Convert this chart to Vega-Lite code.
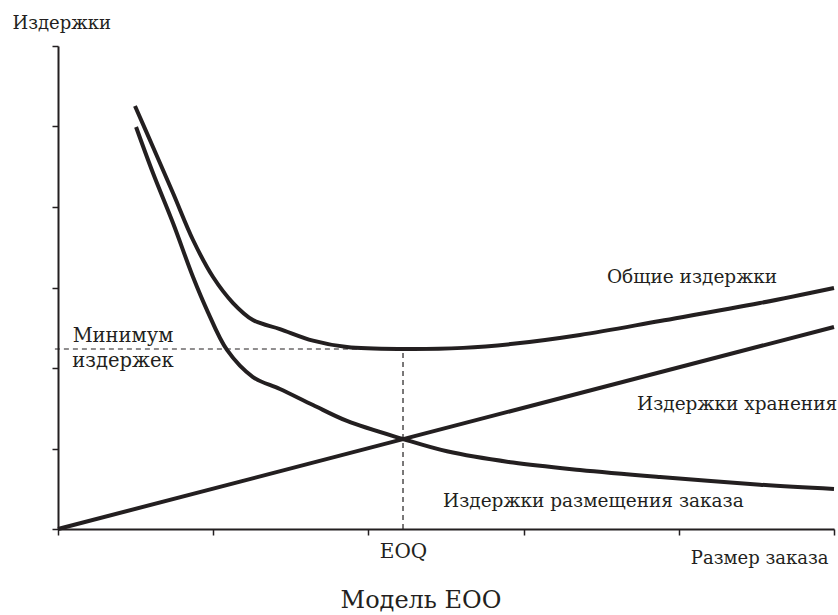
{
  "$schema": "https://vega.github.io/schema/vega-lite/v6.json",
  "width": 776,
  "height": 483,
  "autosize": {"type": "none"},
  "padding": {"left": 58, "top": 46, "right": 4, "bottom": 86},
  "background": "white",
  "config": {
    "view": {"stroke": null},
    "font": "DejaVu Serif",
    "axis": {
      "domainColor": "#231f20",
      "domainWidth": 2,
      "tickColor": "#231f20",
      "tickWidth": 1.5,
      "tickSize": 6,
      "grid": false,
      "labelColor": "#231f20",
      "titleColor": "#231f20",
      "labelFont": "DejaVu Serif",
      "titleFont": "DejaVu Serif",
      "titleFontWeight": "normal"
    }
  },
  "title": {
    "text": "Модель EOO",
    "orient": "bottom",
    "anchor": "middle",
    "font": "DejaVu Serif",
    "fontSize": 24,
    "fontWeight": "normal",
    "color": "#231f20",
    "dx": -25,
    "offset": 22
  },
  "layer": [
    {
      "data": {
        "values": [
          {"series": "order", "q": 0.503, "cost": 4.994},
          {"series": "order", "q": 0.612, "cost": 4.422},
          {"series": "order", "q": 0.741, "cost": 3.801},
          {"series": "order", "q": 0.870, "cost": 3.130},
          {"series": "order", "q": 0.960, "cost": 2.720},
          {"series": "order", "q": 1.089, "cost": 2.224},
          {"series": "order", "q": 1.256, "cost": 1.888},
          {"series": "order", "q": 1.430, "cost": 1.739},
          {"series": "order", "q": 1.643, "cost": 1.540},
          {"series": "order", "q": 1.862, "cost": 1.342},
          {"series": "order", "q": 2.223, "cost": 1.118},
          {"series": "order", "q": 2.506, "cost": 0.965},
          {"series": "order", "q": 2.932, "cost": 0.825},
          {"series": "order", "q": 3.363, "cost": 0.733},
          {"series": "order", "q": 3.879, "cost": 0.646},
          {"series": "order", "q": 4.523, "cost": 0.550},
          {"series": "order", "q": 5.0, "cost": 0.497},
          {"series": "total", "q": 0.496, "cost": 5.255},
          {"series": "total", "q": 0.612, "cost": 4.745},
          {"series": "total", "q": 0.741, "cost": 4.174},
          {"series": "total", "q": 0.870, "cost": 3.590},
          {"series": "total", "q": 0.999, "cost": 3.130},
          {"series": "total", "q": 1.128, "cost": 2.807},
          {"series": "total", "q": 1.256, "cost": 2.596},
          {"series": "total", "q": 1.430, "cost": 2.484},
          {"series": "total", "q": 1.643, "cost": 2.340},
          {"series": "total", "q": 1.862, "cost": 2.260},
          {"series": "total", "q": 2.223, "cost": 2.236},
          {"series": "total", "q": 2.610, "cost": 2.250},
          {"series": "total", "q": 2.932, "cost": 2.300},
          {"series": "total", "q": 3.363, "cost": 2.410},
          {"series": "total", "q": 3.879, "cost": 2.584},
          {"series": "total", "q": 4.523, "cost": 2.807},
          {"series": "total", "q": 5.0, "cost": 2.994},
          {"series": "holding", "q": 0.0, "cost": 0.0},
          {"series": "holding", "q": 5.0, "cost": 2.51}
        ]
      },
      "mark": {"type": "line", "color": "#231f20", "strokeWidth": 4, "interpolate": "catmull-rom"},
      "encoding": {
        "x": {
          "field": "q",
          "type": "quantitative",
          "scale": {"domain": [0, 5], "nice": false, "zero": false},
          "axis": {
            "values": [0, 1, 2, 2.223, 3, 4, 5],
            "labelExpr": "datum.value > 2.2 && datum.value < 2.3 ? 'EOQ' : ''",
            "tickOpacity": {"condition": {"test": "datum.value > 2.2 && datum.value < 2.3", "value": 0}, "value": 1},
            "labelFontSize": 20,
            "labelBaseline": "alphabetic",
            "labelPadding": 22,
            "labelFlush": false,
            "labelOverlap": false,
            "title": "Размер заказа",
            "titleFontSize": 18,
            "titleAlign": "right",
            "titleBaseline": "alphabetic",
            "titleX": 770,
            "titleY": 34
          }
        },
        "y": {
          "field": "cost",
          "type": "quantitative",
          "scale": {"domain": [0, 6], "nice": false},
          "axis": {
            "values": [0, 1, 2, 3, 4, 5, 6],
            "labels": false,
            "title": "Издержки",
            "titleFontSize": 18,
            "titleAngle": 0,
            "titleAlign": "left",
            "titleBaseline": "alphabetic",
            "titleX": -46,
            "titleY": -18
          }
        },
        "detail": {"field": "series", "type": "nominal"}
      }
    },
    {
      "data": {
        "values": [
          {"q": -0.02, "q2": 2.223, "cost": 2.236, "cost2": 2.236},
          {"q": 2.223, "q2": 2.223, "cost": 0.0, "cost2": 2.236}
        ]
      },
      "mark": {"type": "rule", "color": "#231f20", "strokeWidth": 1.2, "strokeDash": [5, 4]},
      "encoding": {
        "x": {"field": "q", "type": "quantitative"},
        "x2": {"field": "q2"},
        "y": {"field": "cost", "type": "quantitative"},
        "y2": {"field": "cost2"}
      }
    },
    {
      "data": {
        "values": [
          {"label": "Общие издержки", "q": 3.537, "cost": 3.056},
          {"label": "Издержки хранения", "q": 3.731, "cost": 1.478},
          {"label": "Издержки размещения заказа", "q": 2.481, "cost": 0.273}
        ]
      },
      "mark": {"type": "text", "align": "left", "baseline": "alphabetic", "fontSize": 18.5, "font": "DejaVu Serif", "color": "#231f20"},
      "encoding": {
        "x": {"field": "q", "type": "quantitative"},
        "y": {"field": "cost", "type": "quantitative"},
        "text": {"field": "label"}
      }
    },
    {
      "data": {
        "values": [
          {"label": "Минимум", "q": 0.419, "cost": 2.323},
          {"label": "издержек", "q": 0.419, "cost": 2.012}
        ]
      },
      "mark": {"type": "text", "align": "center", "baseline": "alphabetic", "fontSize": 19.5, "font": "DejaVu Serif", "color": "#231f20"},
      "encoding": {
        "x": {"field": "q", "type": "quantitative"},
        "y": {"field": "cost", "type": "quantitative"},
        "text": {"field": "label"}
      }
    }
  ]
}
